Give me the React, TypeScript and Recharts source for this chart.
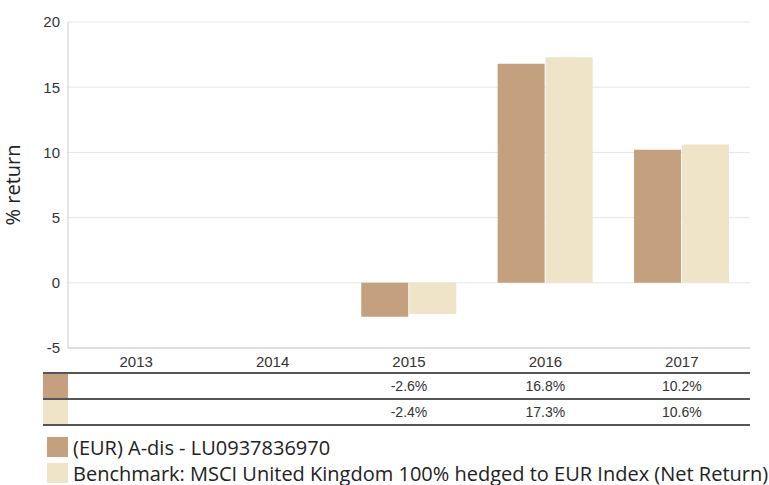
import { BarChart, Bar, XAxis, YAxis, CartesianGrid } from "recharts";

const years = ["2013", "2014", "2015", "2016", "2017"];
const fundReturns = [null, null, -2.6, 16.8, 10.2];
const benchmarkReturns = [null, null, -2.4, 17.3, 10.6];
const yTicks = [-5, 0, 5, 10, 15, 20];

const FUND_NAME = "(EUR) A-dis - LU0937836970";
const BENCH_NAME = "Benchmark: MSCI United Kingdom 100% hedged to EUR Index (Net Return)";

const BROWN = "#c4a07f";
const CREAM = "#efe3c8";

const data = years.map((y, i) => ({
  year: y,
  fund: fundReturns[i],
  bench: benchmarkReturns[i],
}));

const fmt = (v: number | null) => (v == null ? "" : v.toFixed(1) + "%");

const PLOT_LEFT = 68;
const PLOT_RIGHT = 750;
const colW = (PLOT_RIGHT - PLOT_LEFT) / years.length;

const rows = [
  { color: BROWN, values: fundReturns },
  { color: CREAM, values: benchmarkReturns },
];

const App = () => {
  return (
    <div style={{ position: "absolute", left: 0, top: 0, width: 769, height: 485, background: "#fff" }}>
      <BarChart
        width={769}
        height={485}
        data={data}
        margin={{ top: 22, right: 19, bottom: 112, left: 0 }}
        barCategoryGap="15%"
        barGap={1}
      >
        <CartesianGrid vertical={false} stroke="#e6e6e6" />
        <XAxis
          dataKey="year"
          tickLine={false}
          axisLine={{ stroke: "#ccc" }}
          height={25}
          tick={{ fill: "#333", fontSize: 15, fontFamily: "Liberation Sans, Arial" }}
        />
        <YAxis
          width={68}
          domain={[-5, 20]}
          ticks={yTicks}
          tickLine={false}
          axisLine={{ stroke: "#ccc" }}
          tick={{ fill: "#333", fontSize: 15, fontFamily: "Liberation Sans, Arial" }}
          label={{
            value: "% return",
            angle: -90,
            position: "insideLeft",
            dx: 8,
            style: { fill: "#222", fontSize: 20, fontFamily: "Open Sans", textAnchor: "middle" },
          }}
        />
        <Bar dataKey="fund" fill={BROWN} isAnimationActive={false} />
        <Bar dataKey="bench" fill={CREAM} isAnimationActive={false} />
      </BarChart>

      {/* data table under the axis */}
      <div style={{ position: "absolute", left: 43, top: 372, width: PLOT_RIGHT - 43, borderTop: "2px solid #555" }}>
        {rows.map((r, ri) => (
          <div key={ri} style={{ position: "relative", height: 24, borderBottom: "2px solid #555" }}>
            <div style={{ position: "absolute", left: 0, top: 0, width: 25, height: 24, background: r.color }} />
            {r.values.map((v, i) => (
              <div
                key={i}
                style={{
                  position: "absolute",
                  left: PLOT_LEFT - 43 + i * colW,
                  width: colW,
                  top: 4,
                  textAlign: "center",
                  fontFamily: "Liberation Sans, Arial",
                  fontSize: 14,
                  color: "#333",
                }}
              >
                {fmt(v)}
              </div>
            ))}
          </div>
        ))}
      </div>

      {/* legend */}
      {[
        { color: BROWN, name: FUND_NAME },
        { color: CREAM, name: BENCH_NAME },
      ].map((l, i) => (
        <div key={i} style={{ position: "absolute", left: 47, top: 437 + i * 26, display: "flex", alignItems: "center", height: 20 }}>
          <div style={{ width: 21, height: 20, background: l.color, marginRight: 5, flexShrink: 0 }} />
          <span style={{ fontFamily: "Open Sans", fontSize: 20, color: "#222", whiteSpace: "nowrap" }}>{l.name}</span>
        </div>
      ))}
    </div>
  );
};

export default App;
